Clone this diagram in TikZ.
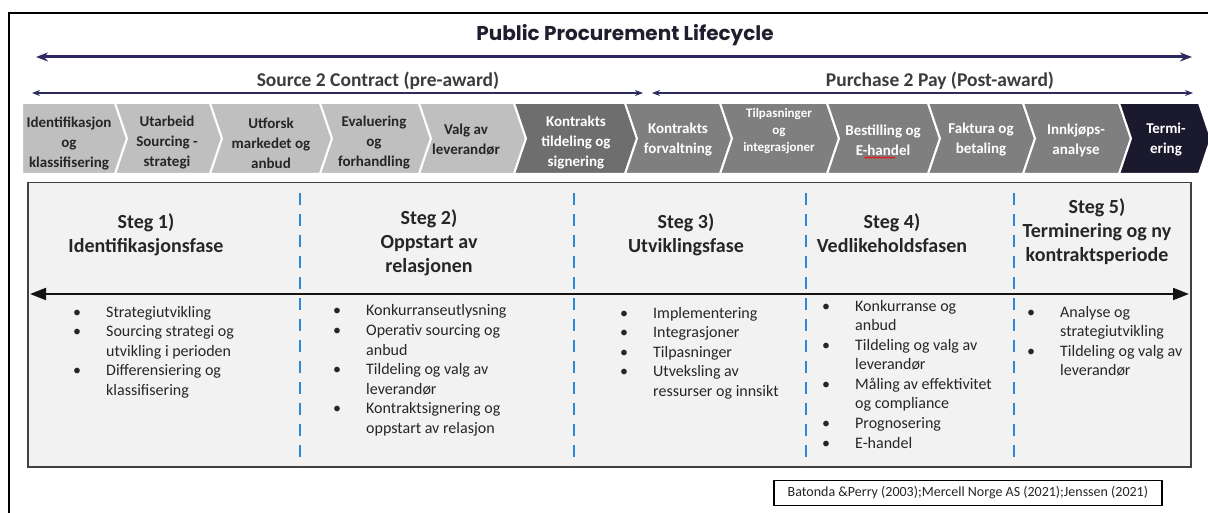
\documentclass[tikz,border=0pt]{standalone}
\usepackage{fontspec}
\setmainfont{Carlito}
\newfontfamily\titlefont{Poppins}
\usepackage{xcolor}
\usepackage{tikz}
\usetikzlibrary{arrows.meta,positioning,decorations.pathmorphing}
\definecolor{ppNavy}{RGB}{44,42,94}
\definecolor{ppTitle}{RGB}{30,30,46}
\definecolor{ppLight}{RGB}{191,191,191}
\definecolor{ppMid}{RGB}{127,127,127}
\definecolor{ppDark}{RGB}{110,110,110}
\definecolor{ppNight}{RGB}{27,25,45}
\definecolor{ppInk}{RGB}{38,38,38}
\definecolor{ppPanel}{RGB}{242,242,242}
\definecolor{ppEdge}{RGB}{64,64,64}
\definecolor{ppDash}{RGB}{47,136,212}
\definecolor{ppLine}{RGB}{20,20,20}

\begin{document}
\begin{tikzpicture}[
    x=1pt, y=-1pt,
    every node/.style={inner sep=0pt, text=ppInk},
    chevron/.style={draw=white, line width=2pt, line join=miter},
    steghead/.style={font=\bfseries\fontsize{20}{24}\selectfont, anchor=base},
    bulletcol/.style={font=\fontsize{16}{19.6}\selectfont, anchor=base west},
    bandlabel/.style={font=\bfseries\fontsize{19.5}{22}\selectfont, text=ppInk!90},
    lifearrow/.style={draw=ppNavy, line width=3pt, {Stealth[length=12pt,width=9pt]}-{Stealth[length=12pt,width=9pt]}},
    phasearrow/.style={draw=ppNavy, line width=1.8pt, {Stealth[length=8pt,width=6pt]}-{Stealth[length=8pt,width=6pt]}},
    timeline/.style={draw=ppLine, line width=2pt, {Triangle[length=16pt,width=12pt]}-{Triangle[length=16pt,width=12pt]}},
    divider/.style={draw=ppDash, line width=2pt, dash pattern=on 12pt off 9pt}
]
\useasboundingbox (0,0) rectangle (1208,513);
\draw[line width=2pt] (9,513) -- (9,13) -- (1208,13);

\node[font=\titlefont\bfseries\fontsize{20}{24}\selectfont, text=ppTitle] (title) at (625,35) {Public Procurement Lifecycle};
\coordinate (lcW) at (36,57);
\coordinate (lcE) at (1192,57);
\draw[lifearrow] (lcW) -- (lcE);

\node[bandlabel] (s2c) at (378,81) {Source 2 Contract (pre-award)};
\node[bandlabel] (p2p) at (940,81) {Purchase 2 Pay (Post-award)};
\coordinate (s2cW) at (32,93);
\coordinate (s2cE) at (643,93);
\coordinate (p2pW) at (652,93);
\coordinate (p2pE) at (1193,93);
\draw[phasearrow] (s2cW) -- (s2cE);
\draw[phasearrow] (p2pW) -- (p2pE);

\foreach \a/\b/\n/\fc/\tc/\cx/\cy/\fs/\ls/\txt [count=\i] in {
  22/115/0/ppLight/ppInk/69/143/15/20/{Identifikasjon\\og\\klassifisering},
  115/210/12/ppLight/ppInk/167/143/15/20/{Utarbeid\\Sourcing -\\strategi},
  210/320/12/ppLight/ppInk/271/143/15/20/{Utforsk\\markedet og\\anbud},
  320/419/12/ppLight/ppInk/374/143/15/20/{Evaluering\\og\\forhandling},
  419/514/12/ppLight/ppInk/466/140/15/20/{Valg av\\leverandør},
  514/625/12/ppDark/white/576/143/15/20/{Kontrakts\\tildeling og\\signering},
  625/720/12/ppMid/white/678/140/15/20/{Kontrakts\\forvaltning},
  720/827/12/ppMid/white/779/131/13/17/{Tilpasninger\\og\\integrasjoner},
  827/928/12/ppMid/white/883/140/15/20/{Bestilling og\\E-handel},
  928/1023/12/ppMid/white/981/140/15/20/{Faktura og\\betaling},
  1023/1119/12/ppMid/white/1076/140/15/20/{Innkjøps-\\analyse},
  1119/1199/12/ppNight/white/1166/140/15/20/{Termi-\\ering}} {
  \filldraw[chevron, fill=\fc] (\a,103) -- (\b,103) -- (\b+12,138.5) -- (\b,174)
    -- (\a,174) -- (\a+\n,138.5) -- cycle;
  \node[font=\bfseries\fontsize{\fs}{\ls}\selectfont, text=\tc, align=center] (ch\i) at (\cx,\cy) {\txt};
}
\draw[red, line width=0.6pt, decorate, decoration={snake, amplitude=0.7pt, segment length=2.5pt}] (864,157.5) -- (895,157.5);

\node[draw=ppEdge, fill=ppPanel, line width=1.5pt, minimum width=1163pt, minimum height=284pt, anchor=north west] (panel) at (27,182) {};
\foreach \x in {300,574,806,1014} \draw[divider] (\x,193) -- (\x,466);
\coordinate (tlW) at (30,294);
\coordinate (tlE) at (1189,294);
\draw[timeline] (tlW) -- (tlE);

\node[steghead] (s1) at (146,229) {\begin{tabular}[t]{@{}c@{}}Steg 1)\\Identifikasjonsfase\end{tabular}};
\node[steghead] (s2) at (429,225) {\begin{tabular}[t]{@{}c@{}}Steg 2)\\Oppstart av\\relasjonen\end{tabular}};
\node[steghead] (s3) at (686,229) {\begin{tabular}[t]{@{}c@{}}Steg 3)\\Utviklingsfase\end{tabular}};
\node[steghead] (s4) at (892,229) {\begin{tabular}[t]{@{}c@{}}Steg 4)\\Vedlikeholdsfasen\end{tabular}};
\node[steghead] (s5) at (1097,214) {\begin{tabular}[t]{@{}c@{}}Steg 5)\\Terminering og ny\\kontraktsperiode\end{tabular}};

\node[bulletcol] (l1) at (73,317) {\begin{tabular}[t]{@{}p{33pt}@{}l@{}}
\textbullet & Strategiutvikling\\
\textbullet & Sourcing strategi og\\
            & utvikling i perioden\\
\textbullet & Differensiering og\\
            & klassifisering
\end{tabular}};
\node[bulletcol] (l2) at (333,316) {\begin{tabular}[t]{@{}p{33pt}@{}l@{}}
\textbullet & Konkurranseutlysning\\
\textbullet & Operativ sourcing og\\
            & anbud\\
\textbullet & Tildeling og valg av\\
            & leverandør\\
\textbullet & Kontraktsignering og\\
            & oppstart av relasjon
\end{tabular}};
\node[bulletcol] (l3) at (620,318) {\begin{tabular}[t]{@{}p{33pt}@{}l@{}}
\textbullet & Implementering\\
\textbullet & Integrasjoner\\
\textbullet & Tilpasninger\\
\textbullet & Utveksling av\\
            & ressurser og innsikt
\end{tabular}};
\node[bulletcol] (l4) at (822,311) {\begin{tabular}[t]{@{}p{33pt}@{}l@{}}
\textbullet & Konkurranse og\\
            & anbud\\
\textbullet & Tildeling og valg av\\
            & leverandør\\
\textbullet & Måling av effektivitet\\
            & og compliance\\
\textbullet & Prognosering\\
\textbullet & E-handel
\end{tabular}};
\node[bulletcol] (l5) at (1027,317) {\begin{tabular}[t]{@{}p{33pt}@{}l@{}}
\textbullet & Analyse og\\
            & strategiutvikling\\
\textbullet & Tildeling og valg av\\
            & leverandør
\end{tabular}};

\node[draw=black, line width=1.3pt, fill=white, minimum width=388pt, minimum height=25pt,
  font=\fontsize{14}{16}\selectfont, below left=12pt and 29pt of panel.south east] (cite)
  {Batonda \&Perry (2003);Mercell Norge AS (2021);Jenssen (2021)};
\end{tikzpicture}
\end{document}
